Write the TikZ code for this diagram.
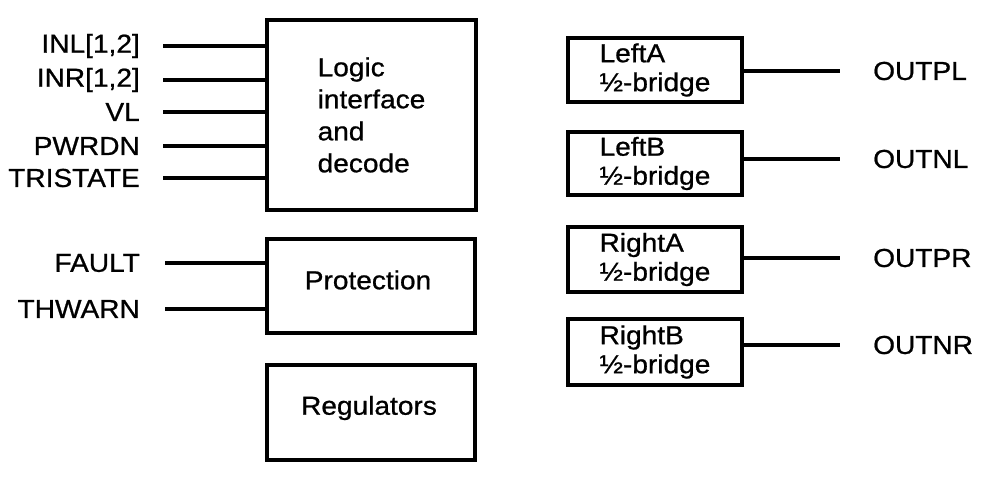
\documentclass[tikz,border=0pt]{standalone}
\usepackage{fontspec}
\setmainfont{Liberation Sans}[FakeStretch=1.08,FakeBold=0.8]
\begin{document}
\begin{tikzpicture}[x=1pt,y=-1pt,
  box/.style={draw, line width=3.6pt, inner sep=0pt, align=left, font=\fontsize{26}{32}\selectfont},
  rbox/.style={draw, line width=3.6pt, inner sep=0pt, align=left, minimum width=174pt, minimum height=64pt, font=\fontsize{26}{29}\selectfont},
  wire/.style={line width=3.4pt},
  lbl/.style={inner sep=0pt, font=\fontsize{26}{30}\selectfont}]
\useasboundingbox (0,0) rectangle (1000,478);
\fill[white] (0,0) rectangle (1000,478);

% left blocks
\node[box, minimum width=209pt, minimum height=190pt] (logic) at (371.5,115) {Logic\\interface\\and\\decode};
\node[box, minimum width=208pt, minimum height=94pt] (prot) at (371,286) {};
\node[lbl] (prott) at (368,280) {Protection};
\node[box, minimum width=208pt, minimum height=95pt] (reg) at (371,412.5) {};
\node[lbl] (regt) at (369,408) {Regulators};

% inputs
\foreach \name/\txt/\y in {i1/{INL[1,2]}/46, i2/{INR[1,2]}/80, i3/VL/112, i4/PWRDN/146, i5/TRISTATE/178}{
  \coordinate (\name) at (163,\y);
  \node[lbl, anchor=east] (\name t) at (140,\y) {\txt};
  \draw[wire] (\name) -- (\name -| logic.west);
}
\foreach \name/\txt/\y in {f1/FAULT/263, f2/THWARN/309}{
  \coordinate (\name) at (165,\y);
  \node[lbl, anchor=east] (\name t) at (140,\y) {\txt};
  \draw[wire] (\name) -- (\name -| prot.west);
}

% right blocks
\node[rbox] (la) at (655,70) {LeftA\\½-bridge};
\node[rbox, minimum height=63pt] (lb) at (655,163.5) {LeftB\\½-bridge};
\node[rbox, minimum height=65pt] (ra) at (655,259.5) {RightA\\½-bridge};
\node[rbox, minimum height=66pt] (rb) at (655,352) {RightB\\½-bridge};

\foreach \b/\name/\txt/\y in {la/o1/OUTPL/71, lb/o2/OUTNL/159, ra/o3/OUTPR/258, rb/o4/OUTNR/345}{
  \coordinate (\name) at (840,\y);
  \node[lbl, anchor=west] (\name t) at (873,\y) {\txt};
  \draw[wire] (\name -| \b.east) -- (\name);
}
\end{tikzpicture}
\end{document}
